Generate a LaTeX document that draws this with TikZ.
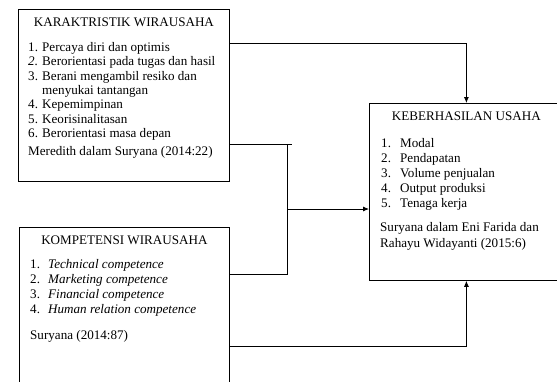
\documentclass[tikz,border=0pt]{standalone}
\usepackage{fontspec}
\setmainfont{Liberation Serif}
\usetikzlibrary{arrows.meta}

\tikzset{
 kotak/.style={draw, line width=0.8pt, anchor=north west, inner sep=0pt},
 teks/.style={anchor=base west, inner sep=0pt, font=\fontsize{13.1}{15}\selectfont},
 judul/.style={teks, anchor=base},
 garis/.style={line width=0.8pt},
 panah/.style={garis, -{Latex[length=6pt,width=5pt]}},
}

\begin{document}
\begin{tikzpicture}[x=1pt,y=-1pt]
\useasboundingbox (0,0) rectangle (557,381);
\clip (0,0) rectangle (557,381);

% kotak
\node[kotak, minimum width=211pt, minimum height=172pt] (karakter) at (18,9) {};
\node[kotak, minimum width=210pt, minimum height=200pt] (kompetensi) at (19,227) {};
\node[kotak, minimum width=194pt, minimum height=177pt] (hasil) at (369,103) {};

% karakteristik wirausaha
\node[judul] (judulA) at (karakter.north |- 0,26) {KARAKTRISTIK WIRAUSAHA};
\foreach \y/\n/\t in {51/1./Percaya diri dan optimis, 65/\textit{2.}/Berorientasi pada tugas dan hasil, 80/3./Berani mengambil resiko dan, 94//menyukai tantangan, 108/4./Kepemimpinan, 123/5./Keorisinalitasan, 137/6./Berorientasi masa depan}{
 \node[teks] (nA\y) at (28,\y) {\n};
 \node[teks] (tA\y) at (42,\y) {\t};
}
\node[teks] (sumberA) at (28,155) {Meredith dalam Suryana (2014:22)};

% kompetensi wirausaha
\node[judul] (judulB) at (kompetensi.north |- 0,244) {KOMPETENSI WIRAUSAHA};
\foreach \y/\n/\t in {268/1./Technical competence, 283/2./Marketing competence, 298/3./Financial competence, 313/4./Human relation competence}{
 \node[teks] (nB\y) at (30,\y) {\n};
 \node[teks] (tB\y) at (48,\y) {\textit{\t}};
}
\node[teks] (sumberB) at (30,339) {Suryana (2014:87)};

% keberhasilan usaha
\node[judul] (judulC) at (hasil.north |- 0,120) {KEBERHASILAN USAHA};
\foreach \y/\n/\t in {147/1./Modal, 162/2./Pendapatan, 177/3./Volume penjualan, 192/4./Output produksi, 207/5./Tenaga kerja}{
 \node[teks] (nC\y) at (381,\y) {\n};
 \node[teks] (tC\y) at (400,\y) {\t};
}
\node[teks] (sumberC) at (380,231) {Suryana dalam Eni Farida dan};
\node[teks] (sumberD) at (380,247) {Rahayu Widayanti (2015:6)};

% garis penghubung
\coordinate (atas) at (287,144);
\coordinate (ujung) at (292,144);
\coordinate (bawah) at (287,274);
\coordinate (simpul) at (287,209);
\draw[panah] (karakter.east |- 0,43) -| (hasil.north);
\draw[garis] (karakter.east |- atas) -- (ujung);
\draw[garis] (kompetensi.east |- bawah) -- (bawah) -- (atas);
\draw[panah] (simpul) -- (simpul -| hasil.west);
\draw[panah] (kompetensi.east |- 0,346) -| (hasil.south);
\end{tikzpicture}
\end{document}
